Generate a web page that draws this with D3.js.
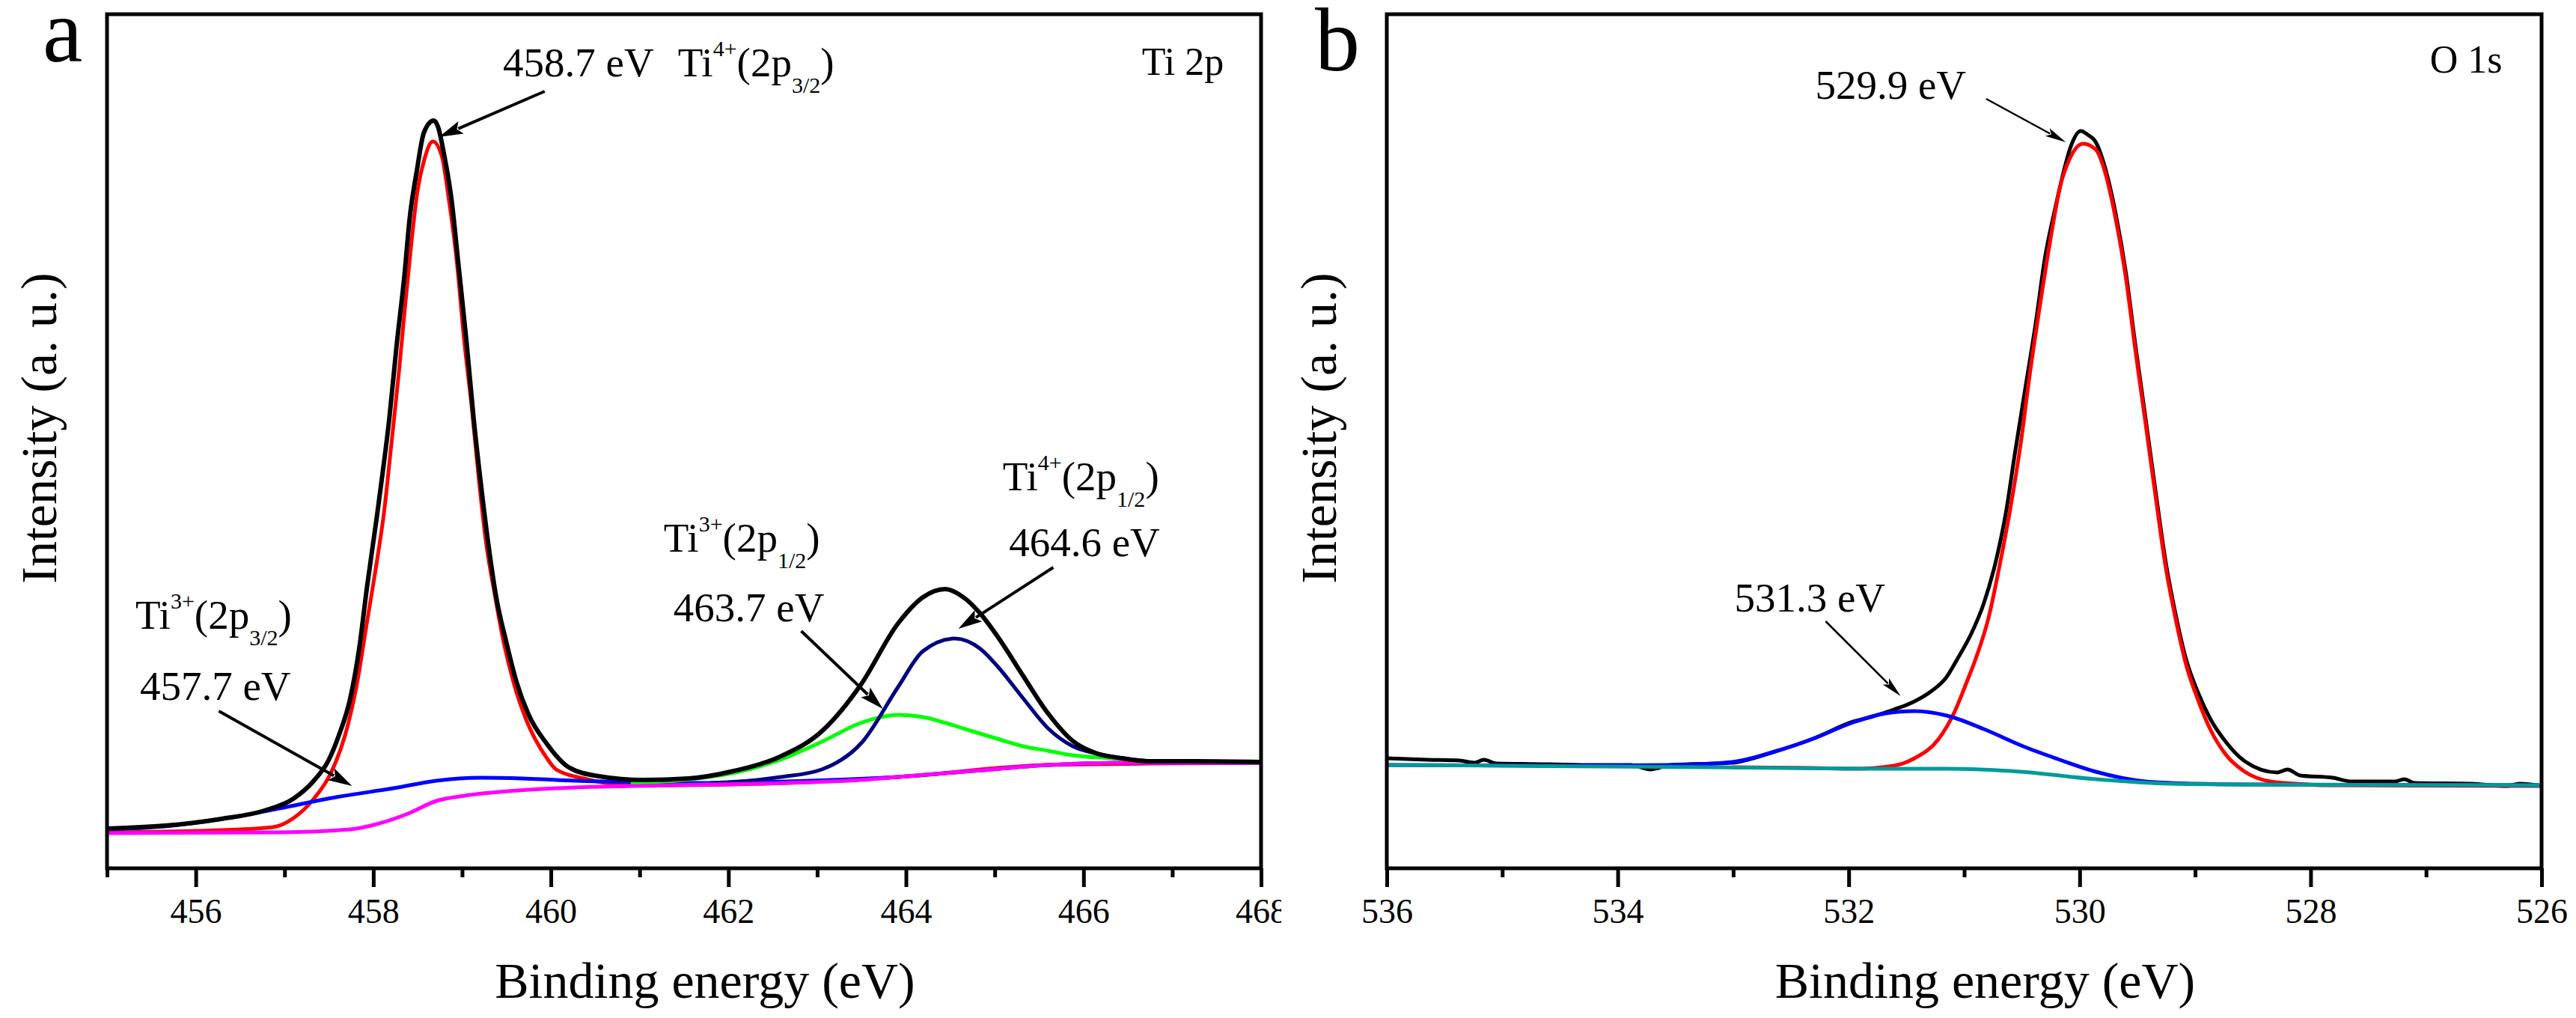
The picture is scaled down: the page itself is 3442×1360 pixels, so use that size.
<!DOCTYPE html>
<html>
<head>
<meta charset="utf-8">
<script src="https://cdn.jsdelivr.net/npm/d3@7"></script>
<style>
  body { margin: 0; background: #fff; }
  svg { display: block; background: #fff; }
  text { font-family: "Liberation Serif", "Times New Roman", serif; fill: #000; }
</style>
</head>
<body>
<svg id="chart"></svg>
<script>
// ---- Ti 2p spectrum, [binding energy (eV), intensity (a.u.)] ----
const tiEnvelope = [
  [455.00, 5.3], [455.65, 5.7], [456.29, 6.6], [456.77, 7.7], [457.10, 9.3], [457.33, 11.7],
  [457.49, 14.3], [457.61, 17.7], [457.74, 22.7], [457.84, 29.3], [457.93, 37.7], [458.04, 47.0],
  [458.09, 51.5], [458.18, 60.1], [458.26, 69.6], [458.35, 79.2], [458.41, 86.9], [458.49, 93.2],
  [458.57, 98.3], [458.68, 99.9], [458.73, 99.0], [458.79, 95.8], [458.88, 89.4], [458.96, 80.5],
  [459.05, 70.3], [459.13, 60.1], [459.22, 50.5], [459.30, 42.9], [459.38, 36.5], [459.50, 30.1],
  [459.61, 25.0], [459.75, 20.5], [459.95, 16.7], [460.20, 13.5], [460.54, 12.3], [461.04, 11.8],
  [461.55, 12.0], [462.06, 13.0], [462.56, 14.8], [463.07, 18.5], [463.49, 24.5], [463.91, 32.7],
  [464.19, 36.2], [464.44, 37.3], [464.67, 36.0], [464.84, 34.0], [465.03, 31.0], [465.32, 25.7],
  [465.60, 20.7], [465.88, 17.0], [466.16, 15.3], [466.44, 14.7], [466.72, 14.3], [467.28, 14.3],
  [468.00, 14.2]
];
const tiFourPlus32 = [
  [455.00, 4.8], [456.29, 5.1], [456.87, 5.5], [457.10, 6.7], [457.33, 9.3], [457.52, 12.7],
  [457.68, 17.7], [457.81, 24.3], [457.93, 33.0], [458.04, 41.0], [458.12, 47.5], [458.20, 56.3],
  [458.29, 66.5], [458.36, 75.4], [458.43, 83.7], [458.50, 90.7], [458.57, 94.5], [458.67, 97.1],
  [458.77, 95.2], [458.85, 89.4], [458.94, 81.1], [459.02, 70.9], [459.11, 61.4], [459.19, 51.8],
  [459.27, 43.5], [459.36, 37.1], [459.47, 30.1], [459.59, 24.4], [459.72, 19.9], [459.95, 14.8],
  [460.06, 13.2], [460.37, 12.0], [460.79, 11.2], [461.38, 11.1], [462.65, 11.4], [463.91, 12.2],
  [465.60, 13.8], [468.00, 14.1]
];
const tiThreePlus32 = [
  [455.00, 5.2], [455.65, 5.6], [456.45, 6.9], [456.94, 8.0], [457.58, 9.5], [458.23, 10.7],
  [458.71, 11.7], [459.20, 12.1], [459.68, 12.0], [460.06, 11.8], [460.96, 11.5], [461.80, 11.4],
  [462.65, 11.6], [463.91, 12.2], [464.75, 13.0], [465.60, 13.8], [466.44, 14.1], [468.00, 14.1]
];
const tiThreePlus12 = [
  [460.90, 11.4], [461.40, 11.7], [461.72, 12.1], [462.12, 12.9], [462.56, 14.4], [463.05, 16.9],
  [463.51, 19.5], [463.91, 20.5], [464.19, 20.2], [464.48, 19.3], [464.75, 18.3], [465.03, 17.3],
  [465.32, 16.3], [465.60, 15.7], [465.88, 15.1], [466.30, 14.7], [466.86, 14.3], [468.00, 14.2]
];
const tiFourPlus12 = [
  [461.80, 11.4], [462.23, 11.7], [462.59, 12.2], [463.05, 13.2], [463.51, 16.9], [463.91, 24.2],
  [464.19, 29.0], [464.55, 30.7], [464.84, 29.3], [465.03, 27.0], [465.32, 22.7], [465.60, 18.7],
  [465.88, 16.3], [466.16, 15.3], [466.44, 14.7], [466.86, 14.3], [468.00, 14.2]
];
const tiBackground = [
  [455.00, 4.7], [456.94, 4.8], [457.74, 5.2], [458.07, 6.0], [458.39, 7.3], [458.71, 9.0],
  [459.03, 9.7], [459.52, 10.3], [460.06, 10.7], [460.96, 11.0], [461.80, 11.2], [462.65, 11.4],
  [463.49, 11.8], [463.91, 12.2], [464.75, 13.0], [465.60, 13.8], [466.44, 14.1], [468.00, 14.1]
];

// ---- O 1s spectrum (axis runs high -> low energy) ----
const oEnvelope = [
  [536.00, 14.7], [535.65, 14.5], [535.37, 14.4], [535.24, 14.1], [535.16, 14.5], [535.05, 14.0],
  [534.59, 13.9], [534.20, 13.8], [533.89, 13.8], [533.72, 13.2], [533.54, 13.8], [533.01, 14.1],
  [532.66, 15.5], [532.31, 17.3], [531.96, 19.6], [531.79, 20.3], [531.61, 21.2], [531.43, 22.3],
  [531.29, 23.6], [531.16, 25.4], [531.05, 28.2], [530.94, 31.3], [530.83, 35.4], [530.72, 41.4],
  [530.64, 47.4], [530.56, 55.5], [530.47, 64.2], [530.38, 72.9], [530.30, 81.6], [530.21, 88.3],
  [530.14, 93.0], [530.08, 96.3], [529.99, 98.5], [529.93, 98.0], [529.86, 97.0], [529.78, 93.6],
  [529.69, 87.6], [529.60, 79.6], [529.52, 70.2], [529.43, 60.2], [529.34, 50.1], [529.26, 41.4],
  [529.17, 34.0], [529.08, 28.0], [528.97, 23.3], [528.87, 20.0], [528.74, 17.0], [528.57, 14.3],
  [528.29, 12.8], [528.20, 13.2], [528.09, 12.4], [527.81, 12.1], [527.64, 11.6], [527.27, 11.6],
  [527.19, 11.9], [527.10, 11.4], [526.62, 11.3], [526.30, 11.0], [526.19, 11.3], [526.00, 11.0]
];
const oLattice = [
  [533.01, 13.5], [532.33, 13.4], [531.94, 13.3], [531.61, 13.7], [531.43, 14.7], [531.22, 17.3],
  [531.08, 21.0], [530.98, 24.8], [530.90, 28.0], [530.79, 33.4], [530.69, 40.7], [530.60, 48.1],
  [530.51, 56.8], [530.43, 66.2], [530.34, 75.6], [530.25, 84.3], [530.17, 91.0], [530.08, 95.0],
  [529.97, 96.8], [529.86, 96.0], [529.78, 93.0], [529.69, 86.9], [529.60, 78.9], [529.52, 69.5],
  [529.43, 59.5], [529.34, 49.4], [529.26, 40.7], [529.17, 33.4], [529.08, 27.3], [528.97, 22.3],
  [528.87, 18.6], [528.74, 15.3], [528.57, 12.9], [528.35, 11.6], [528.13, 11.3], [527.92, 11.1],
  [526.00, 11.0]
];
const oVacancy = [
  [536.00, 13.8], [534.42, 13.7], [533.54, 13.8], [533.01, 14.2], [532.66, 15.5], [532.31, 17.3],
  [531.96, 19.5], [531.68, 20.7], [531.43, 21.0], [531.15, 20.4], [530.83, 18.6], [530.49, 16.3],
  [530.19, 14.6], [529.86, 12.9], [529.43, 11.6], [529.00, 11.3], [528.57, 11.2], [526.00, 11.1]
];
const oBackground = [
  [536.00, 13.8], [533.19, 13.5], [531.79, 13.3], [531.16, 13.3], [530.51, 12.9], [529.86, 11.9],
  [529.21, 11.3], [528.57, 11.2], [526.00, 11.1]
];

// ---- ticks ----
const tiMajorTicks = [456, 458, 460, 462, 464, 466, 468];
const tiMinorTicks = [455, 457, 459, 461, 463, 465, 467];
const oMajorTicks = [536, 534, 532, 530, 528, 526];
const oMinorTicks = [535, 533, 531, 529, 527];
const intensityDomain = [0, 114.1];

const width = 3442, height = 1360;
const svg = d3.select("#chart").attr("width", width).attr("height", height);

svg.append("defs").append("clipPath").attr("id", "clipA")
  .append("rect").attr("x", 0).attr("y", 0).attr("width", 1712).attr("height", height);

const panels = [
  {
    letter: "a", letterPos: [57, 82], left: 143, right: 1685, top: 19, bottom: 1160,
    domain: [455, 468], major: tiMajorTicks, minor: tiMinorTicks, clip: "url(#clipA)",
    series: [
      { data: tiFourPlus32, color: "#ff0000", w: 5 },
      { data: tiThreePlus32, color: "#0000ff", w: 5 },
      { data: tiThreePlus12, color: "#00ff00", w: 5 },
      { data: tiFourPlus12, color: "#000080", w: 5 },
      { data: tiBackground, color: "#ff00ff", w: 5 },
      { data: tiEnvelope, color: "#000000", w: 6 }
    ],
    corner: { text: "Ti 2p", at: [467.58, 106.0] },
    labels: [
      { at: [459.46, 105.8], parts: [{ t: "458.7 eV" }] },
      { at: [461.43, 105.8], parts: [{ t: "Ti" }, { t: "4+", sup: true }, { t: "(2p" }, { t: "3/2", sub: true }, { t: ")" }] },
      { at: [455.32, 32.0], parts: [{ t: "Ti" }, { t: "3+", sup: true }, { t: "(2p" }, { t: "3/2", sub: true }, { t: ")" }] },
      { at: [455.37, 22.5], parts: [{ t: "457.7 eV" }] },
      { at: [461.27, 42.3], parts: [{ t: "Ti" }, { t: "3+", sup: true }, { t: "(2p" }, { t: "1/2", sub: true }, { t: ")" }] },
      { at: [461.38, 33.0], parts: [{ t: "463.7 eV" }] },
      { at: [465.09, 50.5], parts: [{ t: "Ti" }, { t: "4+", sup: true }, { t: "(2p" }, { t: "1/2", sub: true }, { t: ")" }] },
      { at: [465.16, 41.7], parts: [{ t: "464.6 eV" }] }
    ],
    arrows: [
      { from: [459.93, 103.8], to: [458.74, 97.7] },
      { from: [456.26, 21.0], to: [457.76, 11.0] },
      { from: [462.82, 31.7], to: [463.74, 21.3] },
      { from: [465.66, 40.2], to: [464.59, 32.0] }
    ],
    arrowStyle: { w: 4, len: 32, half: 9 }
  },
  {
    letter: "b", letterPos: [1757, 94], left: 1853, right: 3396, top: 19, bottom: 1160,
    domain: [536, 526], major: oMajorTicks, minor: oMinorTicks, clip: null,
    series: [
      { data: oEnvelope, color: "#000000", w: 5 },
      { data: oLattice, color: "#ff0000", w: 5 },
      { data: oVacancy, color: "#0000ff", w: 5 },
      { data: oBackground, color: "#009a9a", w: 5 }
    ],
    corner: { text: "O 1s", at: [526.34, 106.3] },
    labels: [
      { at: [532.29, 102.8], parts: [{ t: "529.9 eV" }] },
      { at: [532.99, 34.3], parts: [{ t: "531.3 eV" }] }
    ],
    arrows: [
      { from: [530.81, 102.8], to: [530.12, 97.0] },
      { from: [532.20, 33.0], to: [531.55, 23.0] }
    ],
    arrowStyle: { w: 2.5, len: 28, half: 6 }
  }
];

// rich text with super/subscripts
const addRich = (g, px, py, parts) => {
  const text = g.append("text").attr("x", px).attr("y", py).attr("font-size", 55);
  let shift = 0;
  parts.forEach((p) => {
    const target = p.sup ? -27 : p.sub ? 22 : 0;
    text.append("tspan")
      .attr("dy", target - shift)
      .attr("font-size", p.sup || p.sub ? 30 : 55)
      .text(p.t);
    shift = target;
  });
};

const drawArrow = (g, p0, p1, s) => {
  const dx = p1[0] - p0[0], dy = p1[1] - p0[1];
  const len = Math.hypot(dx, dy), ux = dx / len, uy = dy / len;
  const bx = p1[0] - ux * s.len, by = p1[1] - uy * s.len;
  g.append("line")
    .attr("x1", p0[0]).attr("y1", p0[1])
    .attr("x2", bx + ux * 4).attr("y2", by + uy * 4)
    .attr("stroke", "#000").attr("stroke-width", s.w);
  g.append("path")
    .attr("d", `M${p1[0]},${p1[1]}L${bx - uy * s.half},${by + ux * s.half}L${bx + ux * 6},${by + uy * 6}L${bx + uy * s.half},${by - ux * s.half}Z`)
    .attr("fill", "#000");
};

panels.forEach((p) => {
  const x = d3.scaleLinear().domain(p.domain).range([p.left, p.right]);
  const y = d3.scaleLinear().domain(intensityDomain).range([p.bottom, p.top]);
  const g = svg.append("g");

  const line = d3.line()
    .x((d) => x(d[0]))
    .y((d) => y(d[1]))
    .curve(d3.curveMonotoneX);

  g.append("g").selectAll("path")
    .data(p.series)
    .join("path")
    .attr("d", (s) => line(s.data))
    .attr("fill", "none")
    .attr("stroke", (s) => s.color)
    .attr("stroke-width", (s) => s.w)
    .attr("stroke-linejoin", "round");

  // frame
  g.append("rect")
    .attr("x", p.left).attr("y", p.top)
    .attr("width", p.right - p.left).attr("height", p.bottom - p.top)
    .attr("fill", "none").attr("stroke", "#000").attr("stroke-width", 5);

  // bottom axis: major + minor ticks
  const axisG = g.append("g").attr("transform", `translate(0,${p.bottom})`);
  if (p.clip) axisG.attr("clip-path", p.clip);
  axisG.append("g")
    .call(d3.axisBottom(x).tickValues(p.major).tickSize(25).tickPadding(15).tickFormat(d3.format("d")))
    .call((a) => a.select(".domain").remove())
    .call((a) => a.selectAll("line").attr("stroke", "#000").attr("stroke-width", 5))
    .call((a) => a.selectAll("text").attr("font-size", 46).attr("fill", "#000")
      .attr("font-family", "Liberation Serif"));
  axisG.append("g")
    .call(d3.axisBottom(x).tickValues(p.minor).tickSize(12).tickFormat(""))
    .call((a) => a.select(".domain").remove())
    .call((a) => a.selectAll("line").attr("stroke", "#000").attr("stroke-width", 5));

  // axis titles
  g.append("text")
    .attr("x", (p.left + p.right) / 2 + 28).attr("y", 1333)
    .attr("text-anchor", "middle").attr("font-size", 68)
    .text("Binding energy (eV)");
  g.append("text")
    .attr("transform", `translate(${p.left - 68},572) rotate(-90)`)
    .attr("text-anchor", "middle").attr("font-size", 68)
    .text("Intensity (a. u.)");

  // panel letter + corner label
  g.append("text")
    .attr("x", p.letterPos[0]).attr("y", p.letterPos[1])
    .attr("font-size", 120).text(p.letter);
  g.append("text")
    .attr("x", x(p.corner.at[0])).attr("y", y(p.corner.at[1]))
    .attr("text-anchor", "end").attr("font-size", 52)
    .text(p.corner.text);

  // annotations
  p.labels.forEach((l) => addRich(g, x(l.at[0]), y(l.at[1]), l.parts));
  p.arrows.forEach((a) =>
    drawArrow(g, [x(a.from[0]), y(a.from[1])], [x(a.to[0]), y(a.to[1])], p.arrowStyle));
});
</script>
</body>
</html>
